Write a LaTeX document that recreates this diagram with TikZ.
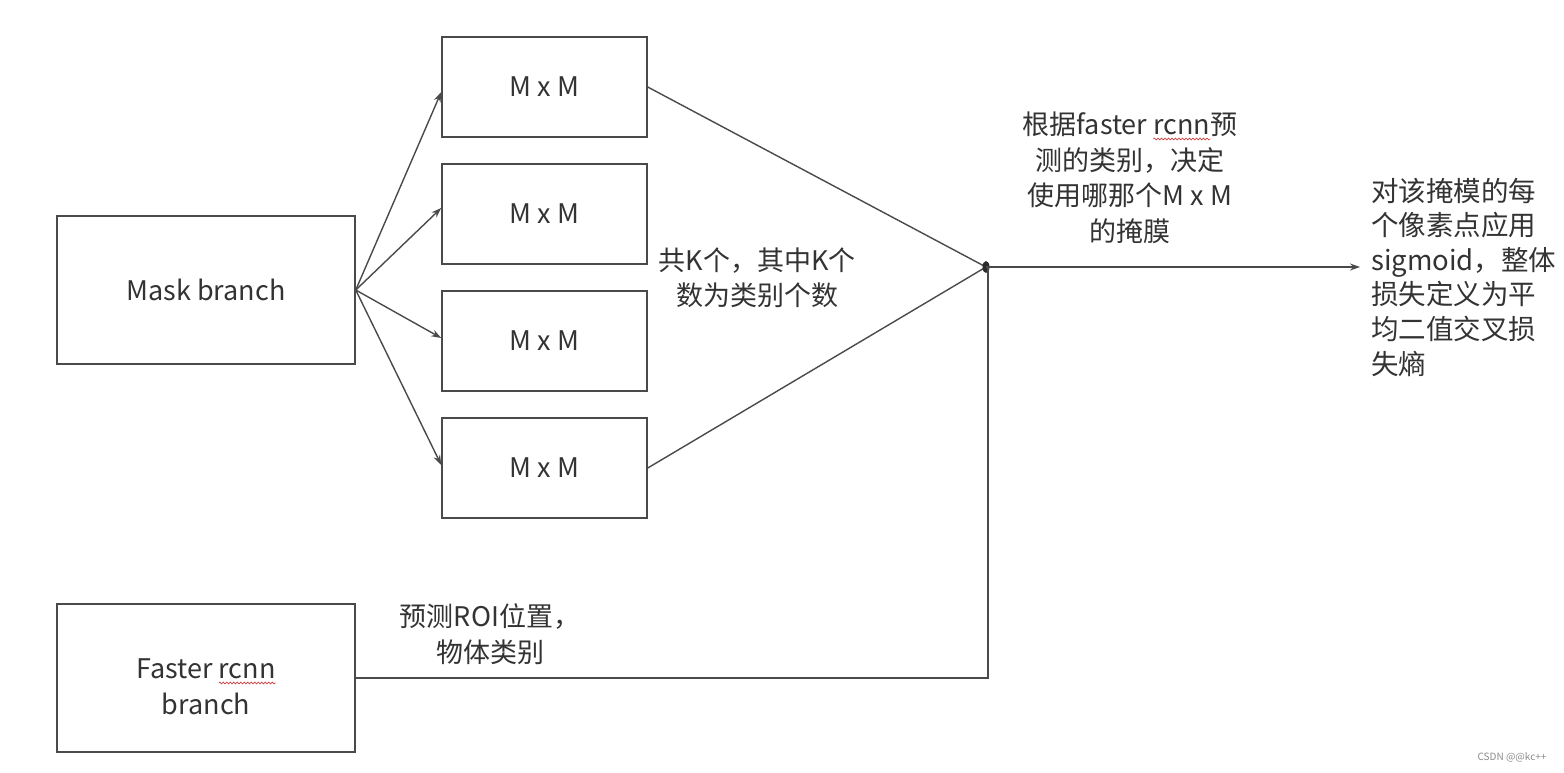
\documentclass[tikz,border=0pt]{standalone}
\usepackage{fontspec}
\setmainfont{Noto Sans CJK SC}
\usetikzlibrary{arrows.meta,calc,decorations.pathmorphing}
\definecolor{linec}{HTML}{4A4A4A}
\definecolor{textc}{HTML}{333333}
\definecolor{spellred}{HTML}{D04040}
\newcommand\spellmark[1]{\tikz[baseline=(spw.base)]{\node[inner sep=0pt,outer sep=0pt] (spw) {#1};\draw[overlay, spellred, line width=0.7pt, decorate, decoration={snake, amplitude=0.9pt, segment length=3.5pt}] ([yshift=-4pt]spw.base west) -- ([yshift=-4pt]spw.base east);}}
\begin{document}
\begin{tikzpicture}[x=1pt,y=-1pt,
  bigbox/.style={draw=linec, line width=1.5pt, minimum width=298pt, minimum height=148pt, inner sep=0pt, text=textc, align=center, font=\fontsize{27}{35}\selectfont},
  mbox/.style={draw=linec, line width=1.5pt, minimum width=205pt, minimum height=100pt, inner sep=0pt, text=textc, font=\fontsize{27}{35}\selectfont},
  lbl/.style={text=textc, align=center, inner sep=0pt, font=\fontsize{27}{35.5}\selectfont},
  conn/.style={draw=linec, line width=1.4pt},
  arr/.style={conn, -{Stealth[length=10pt,width=7pt]}}
]
\useasboundingbox[fill=white] (0,0) rectangle (1564,772);

\node[bigbox] (mask) at (206,290) {Mask branch};
\node[bigbox] (fast) at (206,678) {};
\node[lbl] (fasttxt) at ($(fast.center)+(0,9)$) {Faster \spellmark{rcnn}\\branch};

\node[mbox] (m1) at (544.5,87) {M x M};
\node[mbox] (m2) at (544.5,214) {M x M};
\node[mbox] (m3) at (544.5,341) {M x M};
\node[mbox] (m4) at (544.5,468) {M x M};

\draw[arr] (mask.east) -- ($(m1.west)+(0,5)$);
\draw[arr] (mask.east) -- ($(m2.west)+(0,-6)$);
\draw[arr] (mask.east) -- ($(m3.west)+(0,-3)$);
\draw[arr] (mask.east) -- ($(m4.west)+(0,-3)$);

\coordinate (J) at (986,267);
\coordinate (out) at (1360,267);
\draw[conn] (m1.east) -- (J);
\draw[conn] (m4.east) -- (J);
\fill[linec!60!black] (J) ellipse (3.5pt and 6pt);
\draw[arr] (J) -- (out);
\draw[conn] (fast.east) -| ($(J)+(2,0)$);

\node[lbl] (kl) at (757,278) {共K个，其中K个\\数为类别个数};
\node[lbl] (tl) at (1130,178) {根据faster \spellmark{rcnn}预\\测的类别，决定\\使用哪那个M x M\\的掩膜};
\node[lbl, align=left, anchor=west, font=\fontsize{27.5}{34.6}\selectfont] (rl) at (1371,277) {对该掩模的每\\个像素点应用\\sigmoid，整体\\损失定义为平\\均二值交叉损\\失熵};
\node[lbl] (roi) at (490,634) {预测ROI位置，\\物体类别};
\node[text=black!45, inner sep=0pt, font=\fontsize{10}{12}\selectfont] (wm) at (1512,757) {CSDN @@kc++};
\end{tikzpicture}
\end{document}
